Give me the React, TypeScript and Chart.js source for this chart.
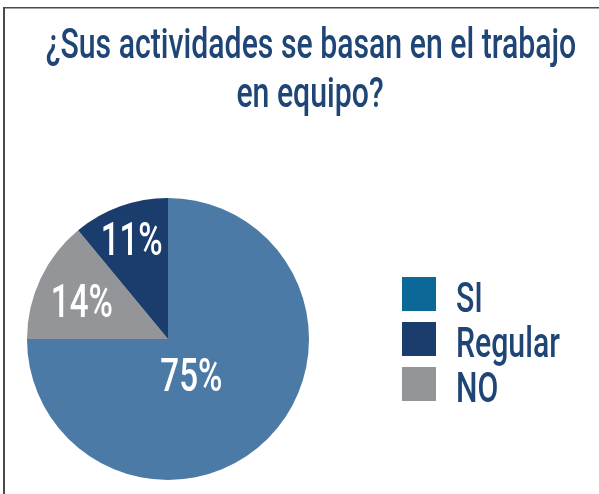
import React, { useEffect, useRef } from "react";
import { Chart, registerables } from "chart.js";

Chart.register(...registerables);

// Survey question shown as a two-line heading
const titleLines = ["¿Sus actividades se basan en el trabajo", "en equipo?"];

// Slices, clockwise from twelve o'clock
const categories = ["SI", "NO", "Regular"];
const values = [75, 14, 11];
const sliceColors = ["#4a7aa5", "#939598", "#1b3d6e"];

// Legend entries in their listed order
const legendLabels = ["SI", "Regular", "NO"];
const legendColors = ["#0b6897", "#1b3d6e", "#939598"];

const FONT = "Roboto, 'Liberation Sans', sans-serif";
const TEXT_BLUE = "#1f4576";
const SQUEEZE = 0.72; // horizontal compression for the condensed look
const CAP = 0.711; // cap-height ratio of the face

// Per-slice label placement: fraction of radius and angular nudge (degrees)
const labelRadius = [0.3, 0.67, 0.76];
const labelNudge = [11.5, -1, 0];

function drawCondensed(
  ctx: CanvasRenderingContext2D,
  text: string,
  x: number,
  y: number,
  size: number,
  align: CanvasTextAlign,
  color: string,
  weight = 500
) {
  ctx.save();
  ctx.font = `${weight} ${size}px ${FONT}`;
  ctx.fillStyle = color;
  ctx.textBaseline = "alphabetic";
  ctx.textAlign = align;
  ctx.translate(x, y);
  ctx.scale(SQUEEZE, 1);
  ctx.fillText(text, 0, 0);
  ctx.restore();
}

const decorations = {
  id: "decorations",
  beforeDraw(chart: Chart) {
    const ctx = chart.ctx;
    ctx.save();
    ctx.fillStyle = "#ffffff";
    ctx.fillRect(0, 0, chart.width, chart.height);
    // frame
    ctx.strokeStyle = "#4a4a4a";
    ctx.lineWidth = 1.5;
    ctx.beginPath();
    ctx.moveTo(3, 7.75);
    ctx.lineTo(chart.width, 7.75);
    ctx.stroke();
    ctx.lineWidth = 2;
    ctx.beginPath();
    ctx.moveTo(4, 7);
    ctx.lineTo(4, chart.height);
    ctx.stroke();
    ctx.restore();

    // heading
    drawCondensed(ctx, titleLines[0], 311, 58, 42, "center", TEXT_BLUE);
    drawCondensed(ctx, titleLines[1], 310, 107, 42, "center", TEXT_BLUE);

    // legend
    legendLabels.forEach((lab, i) => {
      const top = 277 + i * 45;
      ctx.save();
      ctx.fillStyle = legendColors[i];
      ctx.fillRect(402, top, 34, 34);
      ctx.restore();
      drawCondensed(ctx, lab, 456, top + 34.5, 42, "left", TEXT_BLUE);
    });
  },
  afterDatasetsDraw(chart: Chart) {
    const ctx = chart.ctx;
    const meta = chart.getDatasetMeta(0);
    meta.data.forEach((el: any, i: number) => {
      const p = el.getProps(["x", "y", "startAngle", "endAngle", "outerRadius"], true);
      const mid = (p.startAngle + p.endAngle) / 2 + (labelNudge[i] * Math.PI) / 180;
      const r = p.outerRadius * labelRadius[i];
      const cx = p.x + Math.cos(mid) * r;
      const cy = p.y + Math.sin(mid) * r;
      const size = 46;
      drawCondensed(ctx, `${values[i]}%`, cx, cy + (size * CAP) / 2, size, "center", "#ffffff", 500);
    });
  },
};

export default function App() {
  const canvasRef = useRef<HTMLCanvasElement | null>(null);

  useEffect(() => {
    if (!canvasRef.current) return;
    const chart = new Chart(canvasRef.current, {
      type: "pie",
      data: {
        labels: categories,
        datasets: [
          {
            data: values,
            backgroundColor: sliceColors,
            borderWidth: 0,
          },
        ],
      },
      options: {
        animation: false,
        responsive: false,
        events: [],
        layout: { padding: { left: 27, right: 290, top: 198, bottom: 14 } },
        plugins: {
          legend: { display: false },
          title: { display: false },
          tooltip: { enabled: false },
        },
      },
      plugins: [decorations],
    });
    return () => chart.destroy();
  }, []);

  return (
    <div style={{ position: "fixed", left: 0, top: 0, width: 599, height: 494, background: "#fff" }}>
      <canvas ref={canvasRef} width={599} height={494} style={{ display: "block" }} />
    </div>
  );
}
